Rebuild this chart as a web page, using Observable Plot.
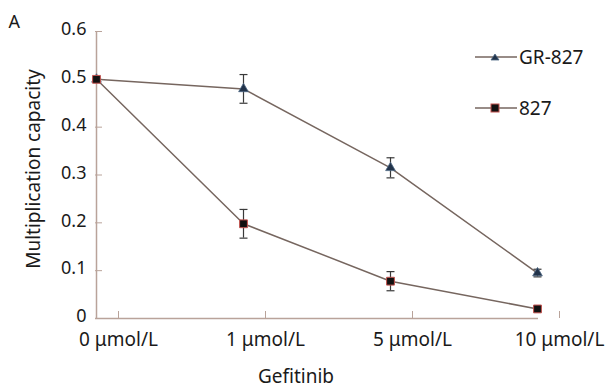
<!DOCTYPE html>
<html><head><meta charset="utf-8">
<script src="https://cdn.jsdelivr.net/npm/d3@7"></script>
<script src="https://cdn.jsdelivr.net/npm/@observablehq/plot@0.6"></script>
<style>
body{margin:0;background:#fff;font-family:"Noto Sans",sans-serif}
#c{position:relative;width:607px;height:389px}
#legend{position:absolute;left:474px;top:46px;font-size:19px;color:#1a1a1a}
.li{display:flex;align-items:center;height:22px}
.li svg{margin-right:2px}
.li + .li{margin-top:29px}
</style>
</head><body><div id="c"></div>
<script>
const doses = ["0 μmol/L", "1 μmol/L", "5 μmol/L", "10 μmol/L"];
const seriesNames = ["GR-827", "827"];
const gr827 = [0.50, 0.48, 0.315, 0.095];
const gr827Err = [0, 0.03, 0.021, 0.008];
const c827 = [0.50, 0.198, 0.078, 0.02];
const c827Err = [0, 0.03, 0.02, 0.005];
const yTicks = [0, 0.1, 0.2, 0.3, 0.4, 0.5, 0.6];
const yTickLabels = ["0", "0.1", "0.2", "0.3", "0.4", "0.5", "0.6"];

const rows = [];
doses.forEach((d, i) => {
  rows.push({dose: d, series: "GR-827", v: gr827[i], e: gr827Err[i]});
  rows.push({dose: d, series: "827", v: c827[i], e: c827Err[i]});
});
const grRows = rows.filter(r => r.series === "GR-827");
const cRows = rows.filter(r => r.series === "827");
const errRows = rows.filter(r => r.e > 0);

const capSymbol = {draw(ctx, size){const r = Math.sqrt(size/Math.PI); ctx.moveTo(-r,0); ctx.lineTo(r,0);}};

const lineColor = "#76665f";
const axisColor = "#b9a39a";
const textColor = "#1a1a1a";

const chart = Plot.plot({
  width: 607, height: 389,
  marginLeft: 95, marginRight: 69, marginTop: 31, marginBottom: 71,
  style: {fontFamily: '"Noto Sans", sans-serif', fontSize: "18px", color: textColor, background: "#fff"},
  x: {type: "point", domain: doses, padding: 0},
  y: {domain: [0, 0.6]},
  marks: [
    Plot.ruleY([0], {stroke: axisColor, strokeWidth: 1.5}),
    Plot.ruleX([doses[0]], {stroke: axisColor, strokeWidth: 1.5}),
    Plot.axisY({ticks: yTicks, tickSize: -7, stroke: axisColor, tickFormat: () => "", label: null}),
    Plot.axisY({ticks: yTicks, tickSize: 0, tickPadding: 9, dy: -2, tickFormat: (d, i) => yTickLabels[i], label: null, fontSize: 18}),
    Plot.axisX({tickSize: -7, tickPadding: 21, stroke: axisColor, label: null, dx: 22, fontSize: 19}),
    Plot.line(grRows, {x: "dose", y: "v", stroke: lineColor, strokeWidth: 1.5}),
    Plot.line(cRows, {x: "dose", y: "v", stroke: lineColor, strokeWidth: 1.5}),
    Plot.ruleX(errRows, {x: "dose", y1: d => d.v - d.e, y2: d => d.v + d.e, stroke: "#3a3a3a", strokeWidth: 1.2}),
    Plot.dot(errRows, {x: "dose", y: d => d.v - d.e, symbol: capSymbol, r: 4, stroke: "#3a3a3a", strokeWidth: 1.2, fill: "none"}),
    Plot.dot(errRows, {x: "dose", y: d => d.v + d.e, symbol: capSymbol, r: 4, stroke: "#3a3a3a", strokeWidth: 1.2, fill: "none"}),
    Plot.dot(grRows, {x: "dose", y: "v", symbol: "triangle", r: 3.6, fill: "#22334a", stroke: "#4d6784", strokeWidth: 0.8}),
    Plot.dot(cRows, {x: "dose", y: "v", symbol: "square", r: 4.4, fill: "#111", stroke: "#c4534f", strokeWidth: 1}),
    Plot.text(["Multiplication capacity"], {frameAnchor: "left", textAnchor: "middle", rotate: -90, dx: -62, dy: -6, fontSize: 19, fill: textColor}),
    Plot.text(["Gefitinib"], {frameAnchor: "bottom", textAnchor: "middle", lineAnchor: "middle", dx: -21, dy: 58, fontSize: 19, fill: textColor}),
    Plot.text(["A"], {frameAnchor: "top-left", textAnchor: "start", lineAnchor: "middle", dx: -87, dy: -9, fontSize: 18, fill: textColor})
  ]
});
const c = document.getElementById("c");
c.appendChild(chart);

const legend = document.createElement("div");
legend.id = "legend";
const sym = {
  "GR-827": '<polygon points="21,8 25,14 17,14" fill="#22334a" stroke="#4d6784" stroke-width="0.8"/>',
  "827": '<rect x="17" y="7" width="8" height="8" fill="#111" stroke="#c4534f" stroke-width="1"/>'
};
seriesNames.forEach(n => {
  const item = document.createElement("div");
  item.className = "li";
  item.innerHTML = `<svg width="43" height="22"><line x1="1" x2="43" y1="11" y2="11" stroke="${lineColor}" stroke-width="1.5"/>${sym[n]}</svg><span>${n}</span>`;
  legend.appendChild(item);
});
c.appendChild(legend);
</script>
</body></html>
